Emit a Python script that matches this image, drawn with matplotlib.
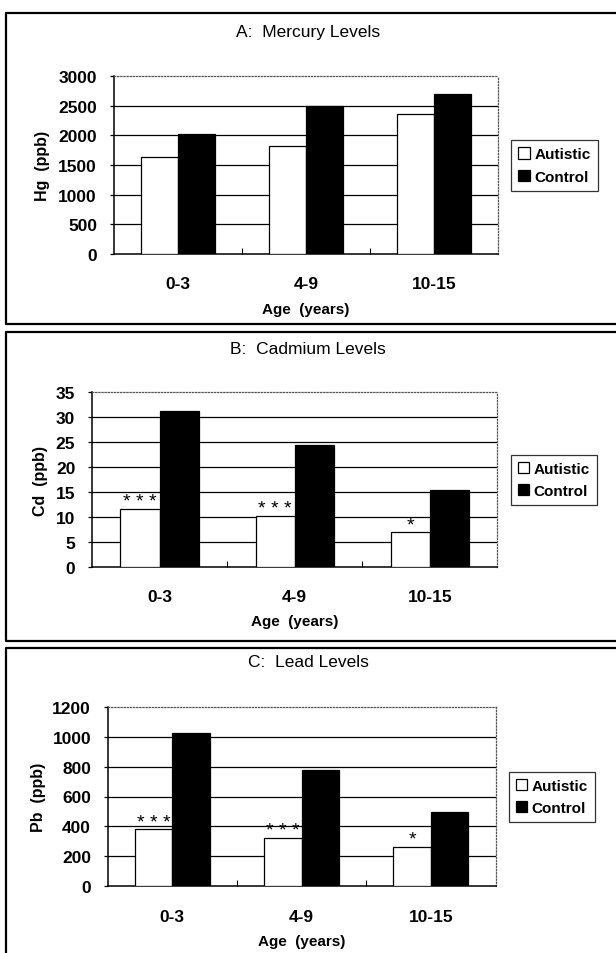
import matplotlib
matplotlib.use('Agg')
import matplotlib.pyplot as plt
from matplotlib.patches import Patch
from matplotlib.lines import Line2D

plt.rcParams['font.family'] = ['Liberation Sans', 'DejaVu Sans']

# Дані
categories = ['0-3', '4-9', '10-15']
groups = ['Autistic', 'Control']

hg_autistic = [1640, 1815, 2355]
hg_control = [2020, 2490, 2705]
cd_autistic = [11.6, 10.2, 7.0]
cd_control = [31.2, 24.5, 15.4]
pb_autistic = [380, 323, 265]
pb_control = [1022, 775, 494]

cd_stars = ['* * *', '* * *', '*']
pb_stars = ['* * *', '* * *', '*']

W, H = 616, 954


# Перетворення пікселів у частки фігури
def fx(x):
    return x / W


def fy(y):
    return 1 - y / H


def panel(fig, box, title, title_y, ylabel, ylabel_x, autistic, control,
          ymax, ystep, legend_box, xlabel_y, stars=None):
    left, top, right, bottom = box
    ax = fig.add_axes([fx(left), fy(bottom), fx(right) - fx(left), fy(top) - fy(bottom)])
    x = list(range(len(categories)))
    w = 0.29
    ax.bar([i - w / 2 for i in x], autistic, w, color='white', edgecolor='black',
           linewidth=0.9, zorder=3)
    ax.bar([i + w / 2 for i in x], control, w, color='black', edgecolor='black',
           linewidth=0.9, zorder=3)

    ticks = list(range(0, ymax + 1, ystep))
    ax.set_ylim(0, ymax)
    ax.set_xlim(-0.5, len(categories) - 0.5)
    ax.set_yticks(ticks)
    ax.set_yticklabels([str(t) for t in ticks], fontsize=12.5, fontweight='bold')
    ax.set_xticks(x)
    ax.set_xticklabels(categories, fontsize=12.5, fontweight='bold')
    ax.set_xticks([i + 0.5 for i in x[:-1]], minor=True)
    ax.tick_params(axis='x', which='major', length=0, pad=16)
    ax.tick_params(axis='x', which='minor', direction='in', length=4, width=0.8)
    ax.tick_params(axis='y', length=3, width=0.9, pad=9)

    # Лінії сітки (крім верхньої)
    for t in ticks[1:-1]:
        ax.axhline(t, color='black', linewidth=0.9, zorder=1)

    for s in ['left', 'bottom']:
        ax.spines[s].set_linewidth(1.1)
        ax.spines[s].set_color('black')
    for s in ['top', 'right']:
        ax.spines[s].set_linestyle((0, (1, 1.5)))
        ax.spines[s].set_color('#555555')
        ax.spines[s].set_linewidth(0.9)

    # Зірочки значущості
    if stars is not None:
        for i, s in enumerate(stars):
            ax.annotate(s, (i - w / 2, autistic[i]), xytext=(0, 2),
                        textcoords='offset points', ha='center', va='baseline',
                        fontsize=14, zorder=5)

    fig.text(0.5, fy(title_y), title, ha='center', va='center', fontsize=12.5)
    fig.text(fx(ylabel_x), fy((top + bottom) / 2), ylabel, ha='center', va='center',
             rotation=90, fontsize=11.5, fontweight='bold')
    fig.text(fx((left + right) / 2), fy(xlabel_y), 'Age  (years)', ha='center',
             va='center', fontsize=11, fontweight='bold')

    handles = [Patch(facecolor='white', edgecolor='black', linewidth=0.9),
               Patch(facecolor='black', edgecolor='black', linewidth=0.9)]
    lx0, ly0, lx1, ly1 = legend_box
    leg = fig.legend(handles, groups, loc='center',
                     bbox_to_anchor=(fx((lx0 + lx1) / 2), fy((ly0 + ly1) / 2)),
                     prop={'size': 11, 'weight': 'bold'}, fancybox=False,
                     handlelength=0.75, handleheight=0.75, handletextpad=0.3,
                     borderpad=0.45, labelspacing=0.55, borderaxespad=0)
    leg.get_frame().set_edgecolor('black')
    leg.get_frame().set_linewidth(0.9)
    return ax


def frame(fig, top, bottom):
    # Рамка панелі
    xs = [fx(617), fx(6), fx(6), fx(617)]
    ys = [fy(top), fy(top), fy(bottom), fy(bottom)]
    fig.add_artist(Line2D(xs, ys, color='black', linewidth=1.6))


if __name__ == '__main__':
    fig = plt.figure(figsize=(W / 100, H / 100), dpi=100)

    frame(fig, 14, 325)
    frame(fig, 333, 642)
    frame(fig, 649, 960)

    panel(fig, (113.6, 77.3, 498, 254.7), 'A:  Mercury Levels', 32, 'Hg  (ppb)', 43,
          hg_autistic, hg_control, 3000, 500, (511, 141, 598, 192), 310)
    panel(fig, (92, 393.3, 497.4, 567.7), 'B:  Cadmium Levels', 349, 'Cd  (ppb)', 41,
          cd_autistic, cd_control, 35, 5, (511, 456, 596.5, 506), 622, cd_stars)
    panel(fig, (107.7, 707.7, 495.5, 887.3), 'C:  Lead Levels', 663, 'Pb  (ppb)', 39,
          pb_autistic, pb_control, 1200, 200, (509, 773, 594.5, 823), 942, pb_stars)

    fig.savefig('out.png', dpi=100)
